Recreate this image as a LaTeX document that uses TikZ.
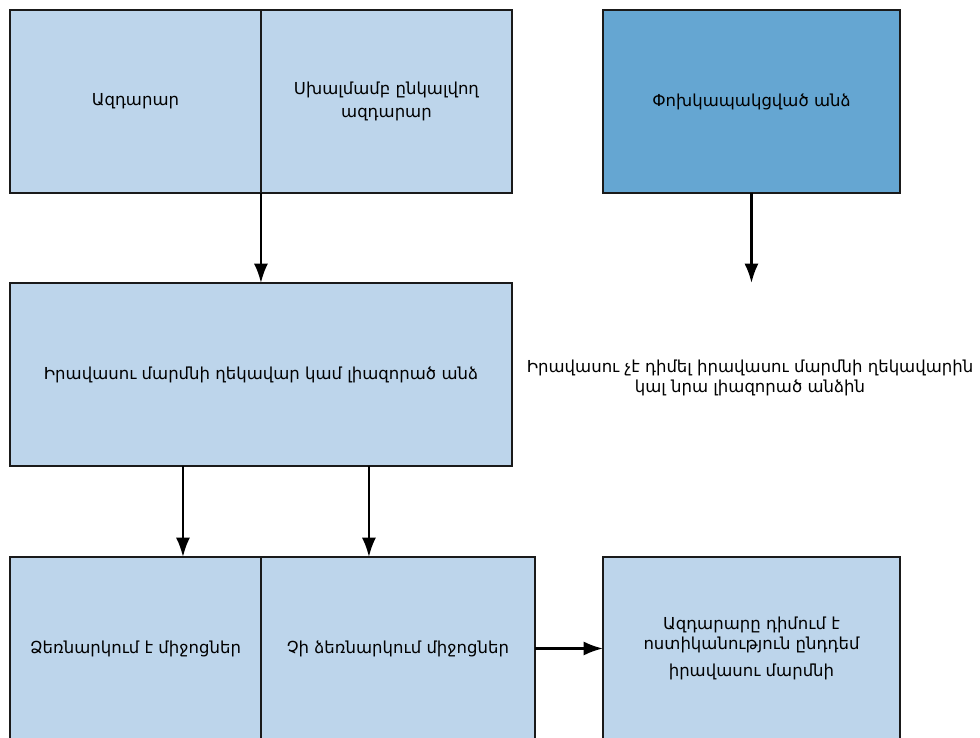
\documentclass[tikz,border=0pt]{standalone}
\usepackage{fontspec}
\setmainfont{DejaVu Sans}
\usetikzlibrary{arrows.meta}

\definecolor{boxblue}{RGB}{189,213,235}
\definecolor{darkblue}{RGB}{101,166,210}
\definecolor{edgegray}{RGB}{26,26,26}

\begin{document}
\begin{tikzpicture}[
		x=0.02cm, y=-0.02cm,
		box/.style = {draw=edgegray, line width=1.2pt, fill=boxblue, anchor=north west, outer sep=0pt, minimum width=5.02cm, minimum height=3.66cm, inner sep=0pt, align=center, font=\fontsize{9.4}{11}\selectfont},
		arr/.style = {line width=1.4pt, -{Latex[length=11pt,width=8pt]}},
		note/.style = {align=center, font=\fontsize{9.4}{11.3}\selectfont}
	]

		\useasboundingbox (0,0) rectangle (980,737);
		\clip (0,0) rectangle (980,737);

		% Upper row
		\node[box] (source) at (10,10) {Ազդարար};
		\node[box] (mistaken) at (261,10) {Սխալմամբ ընկալվող\\[2pt]ազդարար};
		\node[box, fill=darkblue, minimum width=5.94cm] (related) at (603,10) {Փոխկապակցված անձ};

		% Middle row
		\node[box, minimum width=10.04cm] (head) at (10,283) {Իրավասու մարմնի ղեկավար կամ լիազորած անձ};
		\node[note] (noright) at (750,378) {Իրավասու չէ դիմել իրավասու մարմնի ղեկավարին\\կալ նրա լիազորած անձին};
		\coordinate (relend) at (related.south |- head.north);

		% Lower row
		\node[box] (takes) at (10,557) {Ձեռնարկում է միջոցներ};
		\node[box, minimum width=5.48cm] (nottakes) at (261,557) {Չի ձեռնարկում միջոցներ};
		\node[box, minimum width=5.94cm] (police) at (603,557) {Ազդարարը դիմում է\\ոստիկանություն ընդդեմ\\[4.5pt]իրավասու մարմնի};

		\draw[arr] (source.south east) -- (source.south east |- head.north);
		\draw[arr] (related.south) -- (relend);
		\draw[arr] ([xshift=-1.56cm]head.south) -- ([xshift=-1.56cm]head.south |- takes.north);
		\draw[arr] ([xshift=2.16cm]head.south) -- ([xshift=2.16cm]head.south |- nottakes.north);
		\draw[arr] (nottakes.east) -- (nottakes.east -| police.west);
	\end{tikzpicture}
\end{document}
